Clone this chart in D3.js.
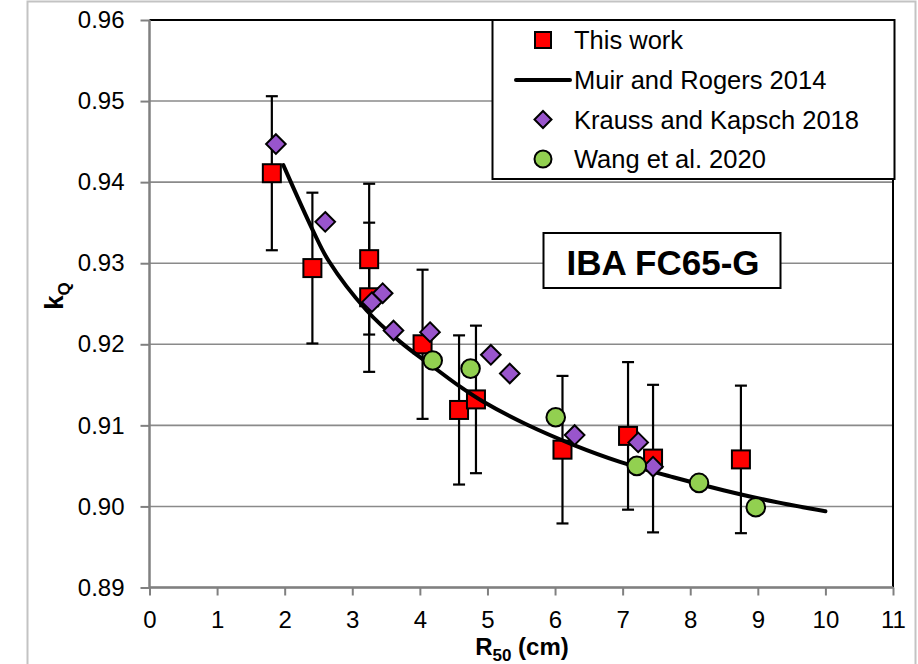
<!DOCTYPE html>
<html>
<head>
<meta charset="utf-8">
<script src="https://cdn.jsdelivr.net/npm/d3@7"></script>
<style>
    body { margin: 0; background: #fff; }
    svg { display: block; }
</style>
</head>
<body>
<div id="chart"></div>
<script>
"use strict";

// This work (with uncertainty bars)
const thisWorkR50 = [1.81, 2.41, 3.25, 3.25, 4.04, 4.58, 4.83, 6.11, 7.08, 7.45, 8.75];
const thisWorkKQ = [0.9411, 0.9294, 0.9305, 0.9258, 0.9200, 0.9119, 0.9132, 0.9070, 0.9087, 0.9059, 0.9058];
const thisWorkErr = [0.0095, 0.0093, 0.0093, 0.0092, 0.0092, 0.0092, 0.0091, 0.0091, 0.0091, 0.0091, 0.0091];

// Muir and Rogers 2014 curve
const muirR50 = [1.98, 2.42, 2.65, 3.21, 3.71, 4.20, 4.59, 4.94, 5.58, 6.27, 6.96, 7.75, 8.49, 9.23, 10.0];
const muirKQ = [0.9421, 0.9340, 0.9303, 0.9242, 0.9203, 0.9172, 0.9148, 0.9129, 0.9101, 0.9076, 0.9055, 0.9036, 0.9020, 0.9006, 0.8994];

// Krauss and Kapsch 2018
const kraussR50 = [1.87, 2.60, 3.29, 3.45, 3.61, 4.15, 5.05, 5.33, 6.29, 7.23, 7.45];
const kraussKQ = [0.9447, 0.9351, 0.9252, 0.9263, 0.9217, 0.9215, 0.9187, 0.9164, 0.9088, 0.9079, 0.9049];

// Wang et al. 2020
const wangR50 = [4.19, 4.75, 6.01, 7.21, 8.13, 8.97];
const wangKQ = [0.9180, 0.9170, 0.9110, 0.9050, 0.9029, 0.8999];

const xTicks = [0, 1, 2, 3, 4, 5, 6, 7, 8, 9, 10, 11];
const yTicks = [0.89, 0.90, 0.91, 0.92, 0.93, 0.94, 0.95, 0.96];
const legendLabels = ["This work", "Muir and Rogers 2014", "Krauss and Kapsch 2018", "Wang et al. 2020"];

const WIDTH = 918, HEIGHT = 664;
const FONT = "Liberation Sans, Arial, sans-serif";
let margin = {top: 20, right: 25, bottom: 76.5, left: 149.5},
    width = WIDTH - margin.left - margin.right,
    height = HEIGHT - margin.top - margin.bottom;

let svg = d3.select("#chart")
    .append("svg")
    .attr("width", WIDTH)
    .attr("height", HEIGHT);

// outer chart frame
svg.append("rect")
    .attr("x", 27.5).attr("y", 1.5)
    .attr("width", 888).attr("height", 700)
    .attr("fill", "none")
    .attr("stroke", "#c3c3c3")
    .attr("stroke-width", 2);

let g = svg.append("g")
    .attr("transform", "translate(" + margin.left + "," + margin.top + ")");

let x = d3.scaleLinear().domain([0, 11]).range([0, width]);
let y = d3.scaleLinear().domain([0.89, 0.96]).range([height, 0]);

// gridlines
g.selectAll(".grid")
    .data(yTicks)
    .enter()
    .append("line")
    .attr("x1", 0).attr("x2", width)
    .attr("y1", d => y(d)).attr("y2", d => y(d))
    .attr("stroke", "#8a8a8a")
    .attr("stroke-width", 1.6);

// top / right border of plot area
g.append("path")
    .attr("d", "M0," + y(0.96) + "H" + x(11) + "V" + y(0.89))
    .attr("fill", "none")
    .attr("stroke", "#000")
    .attr("stroke-width", 2);

let yAxis = g.append("g")
    .call(d3.axisLeft(y).tickValues(yTicks).tickSize(9).tickPadding(16).tickFormat(d3.format(".2f")));
let xAxis = g.append("g")
    .attr("transform", "translate(0," + height + ")")
    .call(d3.axisBottom(x).tickValues(xTicks).tickSize(8).tickPadding(15));

[yAxis, xAxis].forEach(a => {
    a.select(".domain").attr("stroke", "#808080").attr("stroke-width", 2.5);
    a.selectAll(".tick line").attr("stroke", "#808080").attr("stroke-width", 2);
    a.selectAll(".tick text")
        .attr("fill", "#000")
        .style("font-family", FONT)
        .style("font-size", "24px");
});
yAxis.select(".domain").attr("d", "M0," + (y(0.89) + 1) + "V" + y(0.96));
xAxis.select(".domain").attr("d", "M0,0H" + x(11));

// axis titles
let xTitle = svg.append("text")
    .attr("x", 522).attr("y", 655)
    .attr("text-anchor", "middle")
    .style("font-family", FONT)
    .style("font-weight", "bold")
    .style("font-size", "24px");
xTitle.append("tspan").text("R");
xTitle.append("tspan").attr("dy", 6).style("font-size", "17px").text("50");
xTitle.append("tspan").attr("dy", -6).text(" (cm)");

let yTitle = svg.append("text")
    .attr("transform", "translate(63,296) rotate(-90)")
    .attr("text-anchor", "middle")
    .style("font-family", FONT)
    .style("font-weight", "bold")
    .style("font-size", "26px");
yTitle.append("tspan").text("k");
yTitle.append("tspan").attr("dy", 7).style("font-size", "17px").text("Q");

// error bars for this work
let thisWork = thisWorkR50.map((r, i) => ({r: r, k: thisWorkKQ[i], e: thisWorkErr[i]}));
let bars = g.selectAll(".err")
    .data(thisWork)
    .enter()
    .append("g")
    .attr("stroke", "#000")
    .attr("stroke-width", 2.2);
bars.append("line")
    .attr("x1", d => x(d.r)).attr("x2", d => x(d.r))
    .attr("y1", d => y(d.k + d.e)).attr("y2", d => y(d.k - d.e));
bars.append("line")
    .attr("x1", d => x(d.r) - 6).attr("x2", d => x(d.r) + 6)
    .attr("y1", d => y(d.k + d.e)).attr("y2", d => y(d.k + d.e));
bars.append("line")
    .attr("x1", d => x(d.r) - 6).attr("x2", d => x(d.r) + 6)
    .attr("y1", d => y(d.k - d.e)).attr("y2", d => y(d.k - d.e));

function square(sel, s) {
    return sel.append("rect")
        .attr("x", -s / 2).attr("y", -s / 2)
        .attr("width", s).attr("height", s)
        .attr("fill", "#ff0000")
        .attr("stroke", "#000")
        .attr("stroke-width", 2);
}
function diamond(sel, s) {
    return sel.append("path")
        .attr("d", "M0," + (-s) + "L" + s + ",0L0," + s + "L" + (-s) + ",0Z")
        .attr("fill", "#9955cc")
        .attr("stroke", "#000")
        .attr("stroke-width", 2);
}
function circle(sel, r) {
    return sel.append("circle")
        .attr("r", r)
        .attr("fill", "#92d050")
        .attr("stroke", "#000")
        .attr("stroke-width", 2);
}

g.selectAll(".sq")
    .data(thisWork)
    .enter()
    .append("g")
    .attr("transform", d => "translate(" + x(d.r) + "," + y(d.k) + ")")
    .each(function() { square(d3.select(this), 18); });

// Muir and Rogers line
let line = d3.line()
    .x(d => x(d[0]))
    .y(d => y(d[1]))
    .curve(d3.curveCatmullRom);
g.append("path")
    .datum(muirR50.map((r, i) => [r, muirKQ[i]]))
    .attr("d", line)
    .attr("fill", "none")
    .attr("stroke", "#000")
    .attr("stroke-width", 4)
    .attr("stroke-linecap", "round");

g.selectAll(".dm")
    .data(kraussR50.map((r, i) => [r, kraussKQ[i]]))
    .enter()
    .append("g")
    .attr("transform", d => "translate(" + x(d[0]) + "," + y(d[1]) + ")")
    .each(function() { diamond(d3.select(this), 9.8); });

g.selectAll(".ci")
    .data(wangR50.map((r, i) => [r, wangKQ[i]]))
    .enter()
    .append("g")
    .attr("transform", d => "translate(" + x(d[0]) + "," + y(d[1]) + ")")
    .each(function() { circle(d3.select(this), 9.3); });

// instrument label
svg.append("rect")
    .attr("x", 543.5).attr("y", 233)
    .attr("width", 237).attr("height", 55)
    .attr("fill", "#fff")
    .attr("stroke", "#000")
    .attr("stroke-width", 2);
svg.append("text")
    .attr("x", 663).attr("y", 275)
    .attr("text-anchor", "middle")
    .style("font-family", FONT)
    .style("font-weight", "bold")
    .style("font-size", "35px")
    .text("IBA FC65-G");

// legend
let legend = svg.append("g");
legend.append("rect")
    .attr("x", 492.5).attr("y", 20)
    .attr("width", 402).attr("height", 159)
    .attr("fill", "#fff")
    .attr("stroke", "#000")
    .attr("stroke-width", 2);
let rowY = [40, 80, 119.5, 159];
let items = legend.selectAll(".item")
    .data(legendLabels)
    .enter()
    .append("g")
    .attr("transform", (d, i) => "translate(543," + rowY[i] + ")");
items.append("text")
    .attr("x", 31)
    .attr("dy", "0.36em")
    .style("font-family", FONT)
    .style("font-size", "25.5px")
    .text(d => d);
items.each(function(d, i) {
    let s = d3.select(this);
    if (i === 0) square(s, 16);
    if (i === 1) s.append("line").attr("x1", -27).attr("x2", 27)
        .attr("stroke", "#000").attr("stroke-width", 4).attr("stroke-linecap", "round");
    if (i === 2) diamond(s, 8.5);
    if (i === 3) circle(s, 8.5);
});
</script>
</body>
</html>
